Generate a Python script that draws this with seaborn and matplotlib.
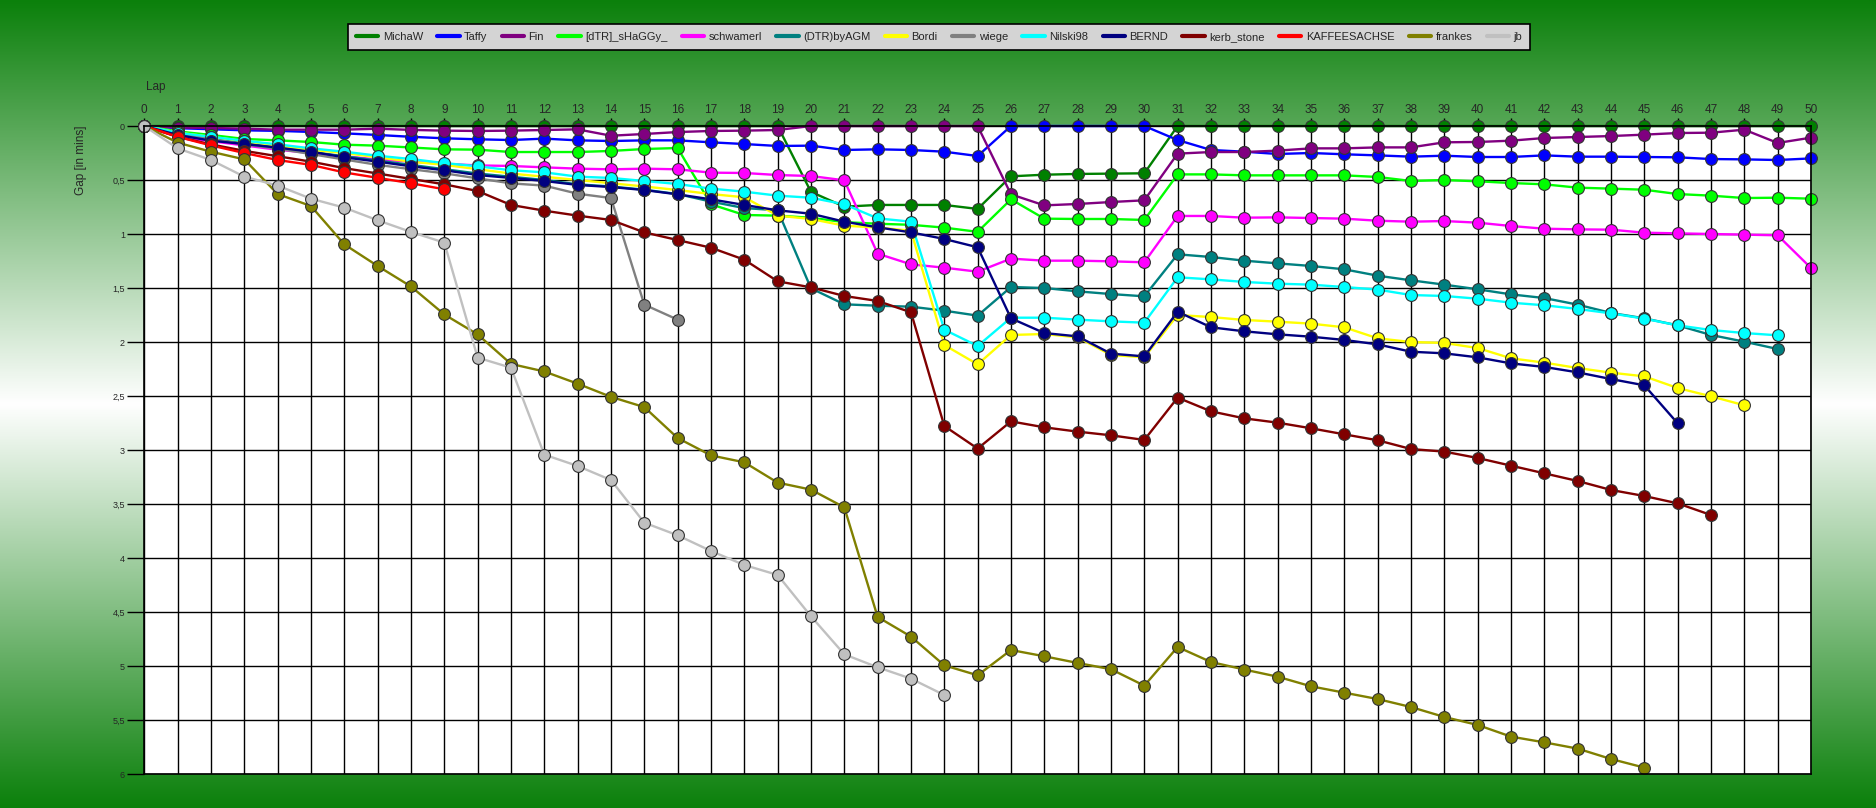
import numpy as np
import pandas as pd
import matplotlib
matplotlib.use("Agg")
import matplotlib.pyplot as plt
from matplotlib.lines import Line2D
import seaborn as sns

nan = np.nan
laps = list(range(51))

drivers = ["MichaW", "Taffy", "Fin", "[dTR]_sHaGGy_", "schwamerl", "(DTR)byAGM", "Bordi",
           "wiege", "Nilski98", "BERND", "kerb_stone", "KAFFEESACHSE", "frankes", "jb"]
colors = ["#008000", "#0000FF", "#800080", "#00FF00", "#FF00FF", "#008080", "#FFFF00",
          "#808080", "#00FFFF", "#000080", "#800000", "#FF0000", "#808000", "#C0C0C0"]

michaw = [0, 0, 0, 0, 0, 0, 0, 0, 0, 0, 0, 0, 0, 0, 0, 0, 0, 0, 0, 0,
          0.61, 0.747, 0.731, 0.731, 0.731, 0.768, 0.466, 0.451, 0.444, 0.441, 0.438,
          0, 0, 0, 0, 0, 0, 0, 0, 0, 0, 0, 0, 0, 0, 0, 0, 0, 0, 0, 0]
taffy = [0, 0.02, 0.03, 0.04, 0.045, 0.055, 0.068, 0.083, 0.10, 0.114, 0.123, 0.13, 0.117,
         0.133, 0.139, 0.133, 0.133, 0.151, 0.167, 0.185, 0.182, 0.222, 0.216, 0.222, 0.238,
         0.278, 0, 0, 0, 0, 0, 0.13, 0.222, 0.238, 0.259, 0.25, 0.262, 0.272, 0.284, 0.275,
         0.287, 0.287, 0.272, 0.284, 0.284, 0.287, 0.29, 0.306, 0.309, 0.315, 0.30]
fin = [0, 0.015, 0.018, 0.025, 0.034, 0.034, 0.034, 0.025, 0.036, 0.043, 0.046, 0.043, 0.037,
       0.031, 0.09, 0.074, 0.056, 0.046, 0.043, 0.037, 0, 0, 0, 0, 0, 0,
       0.633, 0.735, 0.722, 0.704, 0.688, 0.256, 0.241, 0.241, 0.228, 0.207, 0.207, 0.198,
       0.198, 0.151, 0.148, 0.136, 0.111, 0.102, 0.093, 0.08, 0.065, 0.062, 0.034, 0.157, 0.108]
shaggy = [0, 0.05, 0.083, 0.12, 0.133, 0.148, 0.173, 0.182, 0.199, 0.216, 0.219, 0.241, 0.241,
          0.241, 0.231, 0.213, 0.204, 0.725, 0.824, 0.83, 0.85, 0.89, 0.905, 0.915, 0.941, 0.98,
          0.679, 0.858, 0.861, 0.861, 0.87, 0.448, 0.448, 0.457, 0.457, 0.457, 0.457, 0.472,
          0.509, 0.5, 0.512, 0.528, 0.54, 0.571, 0.58, 0.59, 0.63, 0.645, 0.667, 0.664, 0.673]
schwamerl = [0, 0.10, 0.14, 0.18, 0.22, 0.25, 0.28, 0.31, 0.33, 0.35, 0.365,
             0.37, 0.383, 0.395, 0.401, 0.395, 0.401, 0.432, 0.435, 0.454, 0.463, 0.503,
             1.182, 1.281, 1.312, 1.349, 1.228, 1.247, 1.247, 1.253, 1.262,
             0.833, 0.833, 0.849, 0.846, 0.852, 0.858, 0.877, 0.886, 0.88, 0.895, 0.926,
             0.951, 0.957, 0.96, 0.988, 0.994, 1.0, 1.006, 1.012, 1.315]
byagm = [0, 0.07, 0.12, 0.16, 0.20, 0.24, 0.28, 0.32, 0.36, 0.40, 0.44, 0.47, 0.50, 0.54, 0.56,
         0.59, 0.63, 0.70, 0.76, 0.78, 1.503, 1.651, 1.664, 1.673, 1.71, 1.756,
         1.491, 1.5, 1.531, 1.556, 1.577, 1.188, 1.213, 1.247, 1.272, 1.296, 1.327, 1.386,
         1.429, 1.469, 1.512, 1.559, 1.593, 1.654, 1.731, 1.781, 1.846, 1.935, 1.997, 2.065, nan]
bordi = [0, 0.06, 0.10, 0.14, 0.18, 0.22, 0.25, 0.29, 0.33, 0.36, 0.40, 0.44, 0.47, 0.50, 0.53,
         0.56, 0.593, 0.63, 0.66, 0.83, 0.861, 0.923, 0.94, 0.97, 2.028, 2.207,
         1.935, 1.926, 1.957, 2.12, 2.142, 1.75, 1.769, 1.796, 1.812, 1.83, 1.864, 1.966,
         2.0, 2.009, 2.056, 2.151, 2.191, 2.241, 2.284, 2.318, 2.426, 2.503, 2.586, nan, nan]
wiege = [0, 0.07, 0.12, 0.17, 0.21, 0.26, 0.31, 0.36, 0.40, 0.438, 0.485, 0.531, 0.552, 0.627,
         0.667, 1.654, 1.793] + [nan] * 34
nilski = [0, 0.062, 0.10, 0.136, 0.17, 0.207, 0.238, 0.275, 0.306, 0.343, 0.373, 0.41, 0.429,
          0.469, 0.481, 0.509, 0.537, 0.58, 0.608, 0.645, 0.664, 0.725, 0.855, 0.886, 1.886,
          2.037, 1.775, 1.775, 1.793, 1.809, 1.821, 1.401, 1.42, 1.444, 1.46, 1.469, 1.491,
          1.515, 1.565, 1.574, 1.599, 1.636, 1.66, 1.694, 1.735, 1.784, 1.846, 1.889, 1.917,
          1.938, nan]
bernd = [0, 0.083, 0.136, 0.167, 0.20, 0.238, 0.29, 0.33, 0.373, 0.41, 0.454, 0.481, 0.509,
         0.546, 0.565, 0.593, 0.633, 0.679, 0.731, 0.781, 0.812, 0.886, 0.938, 0.985, 1.046,
         1.123, 1.781, 1.917, 1.948, 2.108, 2.133, 1.719, 1.864, 1.901, 1.929, 1.951, 1.981,
         2.022, 2.09, 2.105, 2.142, 2.198, 2.231, 2.281, 2.343, 2.401, 2.753, nan, nan, nan, nan]
kerb = [0, 0.10, 0.17, 0.23, 0.28, 0.33, 0.39, 0.44, 0.49, 0.54, 0.602, 0.731, 0.784, 0.83,
        0.87, 0.985, 1.056, 1.127, 1.238, 1.438, 1.494, 1.574, 1.62, 1.725, 2.778, 2.987,
        2.735, 2.79, 2.83, 2.864, 2.907, 2.515, 2.642, 2.707, 2.747, 2.799, 2.855, 2.91,
        2.991, 3.015, 3.074, 3.145, 3.216, 3.287, 3.37, 3.426, 3.494, 3.602, nan, nan, nan]
kaffee = [0, 0.10, 0.18, 0.25, 0.315, 0.36, 0.43, 0.48, 0.53, 0.586] + [nan] * 41
frankes = [0, 0.154, 0.238, 0.309, 0.63, 0.741, 1.096, 1.296, 1.486, 1.745, 1.93, 2.203,
           2.273, 2.386, 2.508, 2.603, 2.889, 3.05, 3.114, 3.302, 3.367, 3.531, 4.546, 4.728,
           4.994, 5.086, 4.852, 4.91, 4.972, 5.03, 5.182, 4.824, 4.963, 5.033, 5.099, 5.188,
           5.247, 5.306, 5.38, 5.472, 5.546, 5.654, 5.707, 5.765, 5.861, 5.941,
           nan, nan, nan, nan, nan]
jb = [0, 0.207, 0.315, 0.469, 0.552, 0.673, 0.756, 0.873, 0.981, 1.08, 2.145, 2.238, 3.043,
      3.148, 3.278, 3.673, 3.79, 3.935, 4.065, 4.157, 4.54, 4.892, 5.012, 5.117, 5.269] + [nan] * 26

series = [michaw, taffy, fin, shaggy, schwamerl, byagm, bordi, wiege, nilski, bernd,
          kerb, kaffee, frankes, jb]

ytick_vals = [0, 0.5, 1, 1.5, 2, 2.5, 3, 3.5, 4, 4.5, 5, 5.5, 6]
ytick_labels = ["0", "0,5", "1", "1,5", "2", "2,5", "3", "3,5", "4", "4,5", "5", "5,5", "6"]

rows = []
for name, vals in zip(drivers, series):
    for lap, v in zip(laps, vals):
        if not np.isnan(v):
            rows.append((name, lap, v))
df = pd.DataFrame(rows, columns=["Driver", "Lap", "Gap"])

sns.set_style("white")
plt.rcParams["font.family"] = ["Liberation Sans", "DejaVu Sans"]

W, H = 1876, 808
fig = plt.figure(figsize=(W / 100, H / 100), dpi=100)

# background gradient
bg = fig.add_axes([0, 0, 1, 1], zorder=-10)
t = np.linspace(0, 1, 400)
dark = np.array([11, 128, 11]) / 255.0
white = np.array([1.0, 1.0, 1.0])
w = 1 - np.abs(t - 0.5) * 2
grad = dark[None, :] * (1 - w[:, None]) + white[None, :] * w[:, None]
bg.imshow(grad[:, None, :], aspect="auto", extent=[0, 1, 0, 1])
bg.set_axis_off()

left, right = 144.3 / W, 1811 / W
top, bottom = 1 - 126 / H, 1 - 774 / H
ax = fig.add_axes([left, bottom, right - left, top - bottom])
ax.set_facecolor("white")

sns.lineplot(data=df, x="Lap", y="Gap", hue="Driver", hue_order=drivers,
             palette=dict(zip(drivers, colors)), estimator=None, sort=True,
             marker="o", markersize=8.5, markeredgecolor="#333333", markeredgewidth=0.8,
             linewidth=1.7, legend=False, ax=ax)
for ln in ax.lines:
    ln.set_clip_on(False)

ax.set_xlim(0, 50)
ax.set_ylim(6, 0)
ax.set_xticks(laps)
ax.set_xticklabels([str(l) for l in laps], fontsize=8.5)
ax.xaxis.tick_top()
ax.set_yticks(ytick_vals)
ax.set_yticklabels(ytick_labels, fontsize=6.5)
ax.tick_params(axis="x", which="both", length=6, width=1, color="black", pad=1,
               top=True, bottom=False, labeltop=True, labelbottom=False)
ax.tick_params(axis="y", length=12, width=1, color="black", pad=2, left=True)
ax.grid(True, color="black", linewidth=1.0)
ax.set_axisbelow(True)
ax.set_xlabel("")
ax.set_ylabel("")
for s in ax.spines.values():
    s.set_color("black")
    s.set_linewidth(1.2)

fig.text(146 / W, 1 - 87 / H, "Lap", fontsize=8.5, ha="left", va="center")
fig.text(81 / W, 1 - 160 / H, "Gap [in mins]", fontsize=8.5, ha="center", va="center",
         rotation=90)

handles = [Line2D([0], [0], color=c, lw=3) for c in colors]
leg = fig.legend(handles, drivers, loc="center", bbox_to_anchor=(939 / W, 1 - 37 / H),
                 ncol=14, frameon=True, fancybox=False, facecolor="#D4D4D4",
                 edgecolor="black", fontsize=8, handlelength=2.0, handletextpad=0.4,
                 columnspacing=1.3, borderpad=0.75)
leg.get_frame().set_linewidth(1.2)
leg.get_frame().set_alpha(1)

fig.savefig("out.png", dpi=100)
